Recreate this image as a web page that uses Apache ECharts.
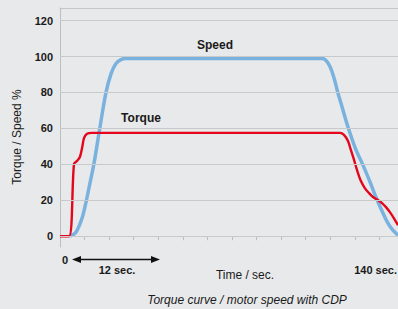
<!DOCTYPE html>
<html>
<head>
<meta charset="utf-8">
<script src="https://cdn.jsdelivr.net/npm/echarts@6/dist/echarts.min.js"></script>
<style>
  html, body { margin: 0; padding: 0; background: #e8e9ea; }
  #chart { width: 398px; height: 309px; }
</style>
</head>
<body>
<div id="chart"></div>
<script>
// tick labels on the y axis
const yTicks = [0, 20, 40, 60, 80, 100, 120]

// speed curve, [sec, %]
const speedData = [
  [4.1, 0], [6.5, 2.2], [9.0, 10.1], [10.6, 19], [12.2, 29.6], [13.8, 40.2],
  [16.3, 60.9], [18.7, 79.9], [20.8, 90.5], [22.8, 96.1], [24.8, 98.3], [26.9, 98.9],
  [106.6, 98.9], [108.3, 97.8], [109.9, 94.4], [111.5, 88.3], [113.1, 79.9],
  [114.8, 72.1], [117.2, 60.9], [120.5, 48], [123.3, 39.7], [126.2, 30.2],
  [128.6, 21.8], [131.1, 14], [133.5, 7.3], [135.5, 3.4], [137.6, 0.6]
]

// torque curve, [sec, %]
const torqueData = [
  [0, 0], [3.7, 0], [5.7, 40.2], [6.9, 41.9], [8.1, 44.1], [9.0, 49.2],
  [9.8, 54.7], [11.0, 57], [13.0, 57.5], [114.0, 57.5], [115.6, 56.4],
  [117.2, 53.1], [118.4, 48], [119.7, 42.5], [120.9, 36.9], [122.5, 30.7],
  [124.1, 26.8], [125.8, 24], [127.4, 21.8], [129.4, 20.1], [131.1, 18.4],
  [132.7, 16.2], [134.3, 13.4], [135.9, 10.1], [137.6, 6.1]
]

const chart = echarts.init(document.getElementById('chart'), null, { renderer: 'svg' })

const gridColor = '#c8c9cb'
const textColor = '#1a1a1a'

chart.setOption({
  backgroundColor: '#e8e9ea',
  animation: false,
  grid: { left: 60, right: 0, top: 8, bottom: 62 },
  xAxis: [
    {
      type: 'value',
      min: 0,
      max: 137.6,
      interval: 10,
      axisLine: { show: true, lineStyle: { color: '#bdbec0', width: 1 } },
      axisTick: { show: true, length: 4, lineStyle: { color: '#bdbec0' } },
      axisLabel: { show: false },
      splitLine: { show: false }
    },
    {
      type: 'value',
      position: 'top',
      min: 0,
      max: 137.6,
      axisLine: { show: true, lineStyle: { color: '#c4c5c7', width: 1 } },
      axisTick: { show: false },
      axisLabel: { show: false },
      splitLine: { show: false }
    }
  ],
  yAxis: {
    type: 'value',
    min: -6,
    max: 127,
    axisLine: { show: true, lineStyle: { color: '#bdbec0', width: 1 } },
    axisTick: { show: false },
    splitLine: { show: false },
    axisLabel: {
      customValues: yTicks,
      color: textColor,
      fontSize: 11,
      fontWeight: 'bold',
      fontFamily: 'Liberation Sans, Arial, sans-serif',
      margin: 7
    }
  },
  series: [
    {
      // horizontal grid lines at the labelled values
      type: 'line',
      data: [],
      z: 0,
      markLine: {
        silent: true,
        symbol: 'none',
        label: { show: false },
        lineStyle: { color: gridColor, type: 'solid', width: 1 },
        data: yTicks.map(v => ({ yAxis: v }))
      }
    },
    {
      name: 'Speed',
      type: 'line',
      data: speedData,
      smooth: 0.3,
      showSymbol: false,
      z: 2,
      lineStyle: { color: '#79b2df', width: 3.5 }
    },
    {
      name: 'Torque',
      type: 'line',
      data: torqueData,
      smooth: 0.3,
      showSymbol: false,
      z: 3,
      lineStyle: { color: '#e3061d', width: 2.4 }
    }
  ],
  graphic: [
    {
      type: 'text', x: 17, y: 137, rotation: Math.PI / 2,
      style: { text: 'Torque / Speed %', fill: textColor, font: '12px Liberation Sans, Arial, sans-serif',
        textAlign: 'center', textVerticalAlign: 'middle' }
    },
    {
      type: 'text', x: 215, y: 45,
      style: { text: 'Speed', fill: textColor, font: 'bold 12px Liberation Sans, Arial, sans-serif',
        textAlign: 'center', textVerticalAlign: 'middle' }
    },
    {
      type: 'text', x: 141, y: 118,
      style: { text: 'Torque', fill: textColor, font: 'bold 12px Liberation Sans, Arial, sans-serif',
        textAlign: 'center', textVerticalAlign: 'middle' }
    },
    {
      type: 'text', x: 65, y: 260,
      style: { text: '0', fill: textColor, font: 'bold 11px Liberation Sans, Arial, sans-serif',
        textAlign: 'center', textVerticalAlign: 'middle' }
    },
    {
      type: 'line', shape: { x1: 78, y1: 259.5, x2: 154, y2: 259.5 },
      style: { stroke: '#111', lineWidth: 1.3 }
    },
    {
      type: 'polygon', shape: { points: [[72, 259.5], [81, 256], [81, 263]] },
      style: { fill: '#111' }
    },
    {
      type: 'polygon', shape: { points: [[160, 259.5], [151, 256], [151, 263]] },
      style: { fill: '#111' }
    },
    {
      type: 'text', x: 117, y: 270,
      style: { text: '12 sec.', fill: textColor, font: 'bold 11px Liberation Sans Narrow, Liberation Sans, Arial, sans-serif',
        textAlign: 'center', textVerticalAlign: 'middle' }
    },
    {
      type: 'text', x: 397, y: 270,
      style: { text: '140 sec.', fill: textColor, font: 'bold 11px Liberation Sans Narrow, Liberation Sans, Arial, sans-serif',
        textAlign: 'right', textVerticalAlign: 'middle' }
    },
    {
      type: 'text', x: 245, y: 275,
      style: { text: 'Time / sec.', fill: textColor, font: '12px Liberation Sans, Arial, sans-serif',
        textAlign: 'center', textVerticalAlign: 'middle' }
    },
    {
      type: 'text', x: 247, y: 300,
      style: { text: 'Torque curve / motor speed with CDP', fill: textColor,
        font: 'italic 12px Liberation Sans, Arial, sans-serif',
        textAlign: 'center', textVerticalAlign: 'middle' }
    }
  ]
})

window.addEventListener('resize', chart.resize)
</script>
</body>
</html>
